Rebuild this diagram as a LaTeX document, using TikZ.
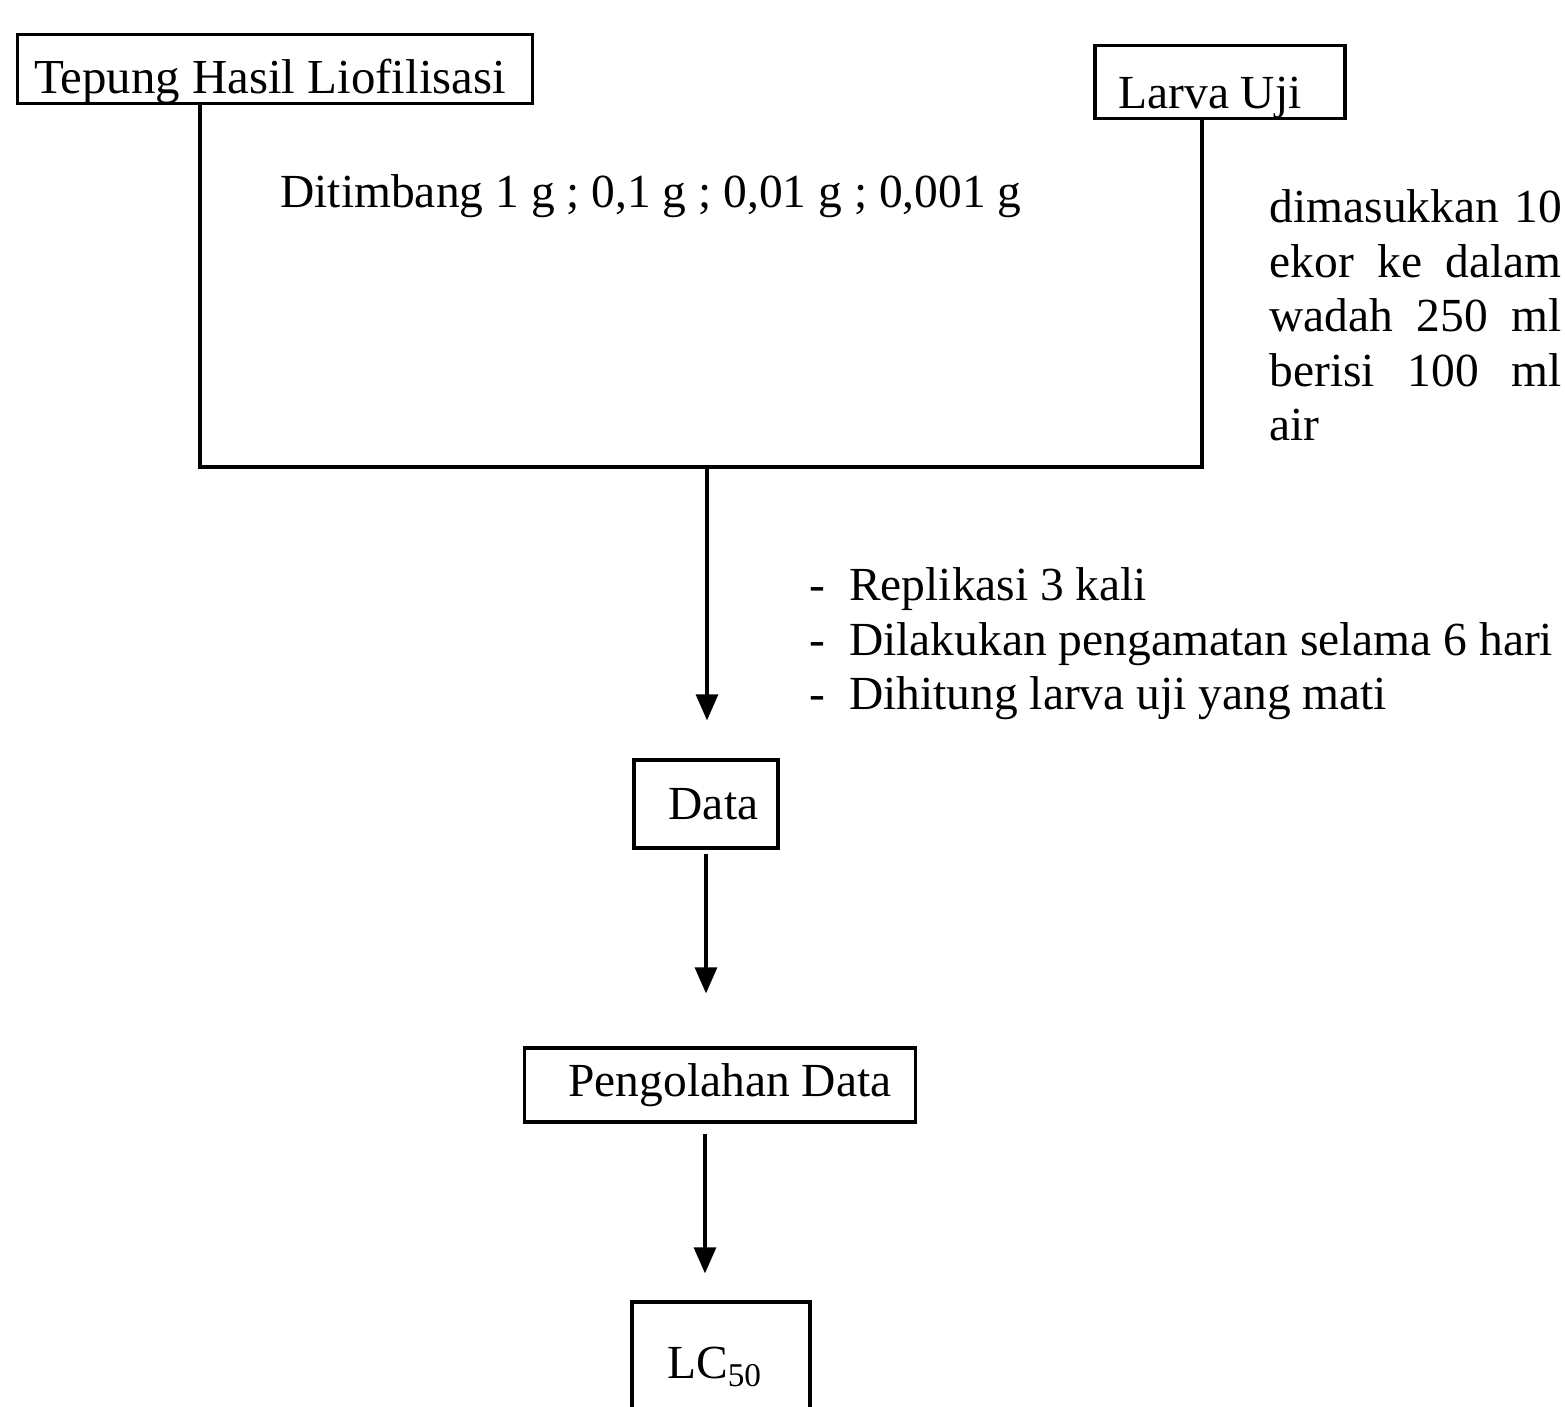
\documentclass[tikz,border=0pt]{standalone}
\usepackage{fontspec}
\setmainfont{Liberation Serif}
\usetikzlibrary{
  arrows.meta,
  calc,
}
\tikzset{
  >={Triangle[length=2.6mm,width=2.2mm]},
  stepbox/.style={draw, line width=0.9pt, inner xsep=0pt},
  topbox/.style={stepbox, inner ysep=0pt, text depth=0.1cm},
  note/.style={inner sep=0pt, align=left},
}

\begin{document}
\begin{tikzpicture}[x=0.01cm, y=-0.01cm, line width=0.9pt,
    every node/.append style={font=\fontsize{13.5}{15.5}\selectfont}]
      \clip (0,0) rectangle (1565,1407);
      \fill[white] (0,0) rectangle (1565,1407);
      % the two starting materials
      \node [topbox, minimum width=5.14cm, text height=0.59cm] (tepung) at (275,69) {\fontsize{13.9}{15.5}\selectfont Tepung Hasil Liofilisasi\kern0.1cm};
      \node [topbox, minimum width=2.50cm, text height=0.63cm, text depth=0.1cm] (larva) at (1220,82) {Larva Uji\kern0.2cm};
      \node (timbang) at (651,196) {Ditimbang 1 g ; 0,1 g ; 0,01 g ; 0,001 g};
      \node [note, anchor=north west] (masuk) at (1268,188) {%
        \makebox[2.92cm][s]{dimasukkan 10}\\
        \makebox[2.92cm][s]{ekor ke dalam}\\
        \makebox[2.92cm][s]{wadah 250 ml}\\
        \makebox[2.92cm][s]{berisi 100 ml}\\
        air};
      % bracket joining both
      \coordinate (lft) at (200,467);
      \coordinate (join) at (707,467);
      \coordinate (rgt) at (1202,467);
      \draw (lft |- tepung.south) -- (lft) -- (rgt) -- (rgt |- larva.south);
      % steps below
      \node [stepbox, minimum width=1.44cm, minimum height=0.88cm] (data) at (706,804) {\hspace{0.15cm}Data};
      \node [note, anchor=north west] (langkah) at (808,566) {%
        -\enspace Replikasi 3 kali\\
        -\enspace Dilakukan pengamatan selama 6 hari\\
        -\enspace Dihitung larva uji yang mati};
      \node [stepbox, minimum width=3.91cm, minimum height=0.74cm] (olah) at (720,1085) {\hspace{0.2cm}Pengolahan Data};
      \node [stepbox, minimum width=1.78cm, minimum height=1.30cm] (lc) at (721,1367) {LC\textsubscript{50}\kern0.12cm};
      \draw [->, shorten >=0.38cm] (join) -- (join |- data.north);
      \draw [->, shorten <=0.04cm, shorten >=0.53cm] (data.south) -- (data.south |- olah.north);
      \draw [->, shorten <=0.10cm, shorten >=0.27cm] ([xshift=-0.15cm]olah.south) -- ([xshift=-0.15cm]olah.south |- lc.north);
    \end{tikzpicture}
\end{document}
